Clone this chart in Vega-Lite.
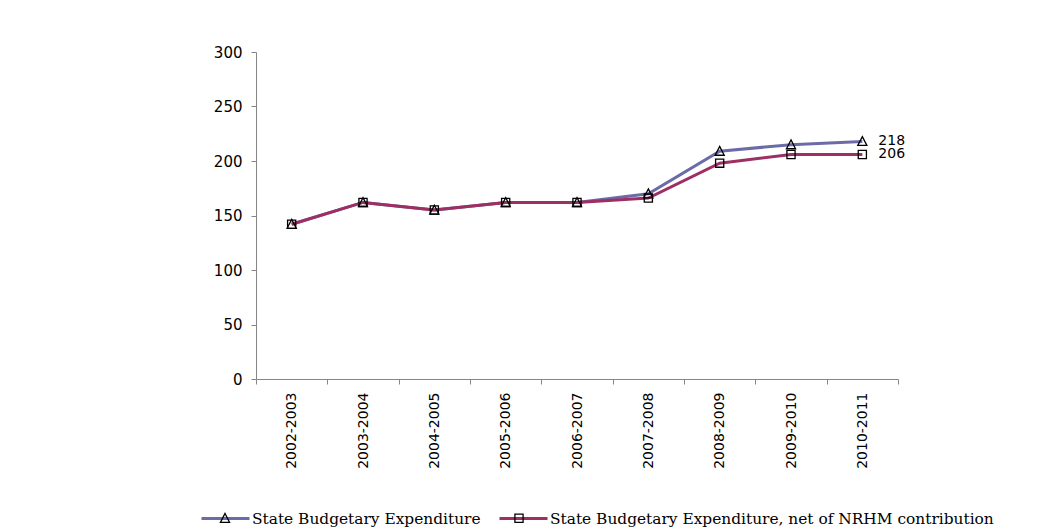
{
  "$schema": "https://vega.github.io/schema/vega-lite/v6.json",
  "width": 642,
  "height": 327,
  "autosize": "none",
  "padding": {"left": 256, "top": 52, "right": 161, "bottom": 150},
  "background": "white",
  "config": {"view": {"stroke": null}},
  "data": {
    "values": [
      {"year": "2002-2003", "series": "State Budgetary Expenditure", "value": 142},
      {"year": "2003-2004", "series": "State Budgetary Expenditure", "value": 162},
      {"year": "2004-2005", "series": "State Budgetary Expenditure", "value": 155},
      {"year": "2005-2006", "series": "State Budgetary Expenditure", "value": 162},
      {"year": "2006-2007", "series": "State Budgetary Expenditure", "value": 162},
      {"year": "2007-2008", "series": "State Budgetary Expenditure", "value": 170},
      {"year": "2008-2009", "series": "State Budgetary Expenditure", "value": 209},
      {"year": "2009-2010", "series": "State Budgetary Expenditure", "value": 215},
      {"year": "2010-2011", "series": "State Budgetary Expenditure", "value": 218},
      {"year": "2002-2003", "series": "State Budgetary Expenditure, net of NRHM contribution", "value": 142},
      {"year": "2003-2004", "series": "State Budgetary Expenditure, net of NRHM contribution", "value": 162},
      {"year": "2004-2005", "series": "State Budgetary Expenditure, net of NRHM contribution", "value": 155},
      {"year": "2005-2006", "series": "State Budgetary Expenditure, net of NRHM contribution", "value": 162},
      {"year": "2006-2007", "series": "State Budgetary Expenditure, net of NRHM contribution", "value": 162},
      {"year": "2007-2008", "series": "State Budgetary Expenditure, net of NRHM contribution", "value": 166},
      {"year": "2008-2009", "series": "State Budgetary Expenditure, net of NRHM contribution", "value": 198},
      {"year": "2009-2010", "series": "State Budgetary Expenditure, net of NRHM contribution", "value": 206},
      {"year": "2010-2011", "series": "State Budgetary Expenditure, net of NRHM contribution", "value": 206}
    ]
  },
  "encoding": {
    "x": {
      "field": "year",
      "type": "ordinal",
      "bandPosition": 0.5,
      "scale": {"type": "band", "paddingInner": 0, "paddingOuter": 0},
      "axis": {
        "title": null,
        "labelAngle": -90,
        "tickBand": "extent",
        "domainColor": "#868686",
        "tickColor": "#868686",
        "tickSize": 5,
        "labelFont": "DejaVu Sans",
        "labelFontSize": 14,
        "labelColor": "black",
        "labelPadding": 8
      }
    },
    "y": {
      "field": "value",
      "type": "quantitative",
      "scale": {"domain": [0, 300], "nice": false, "zero": true},
      "axis": {
        "title": null,
        "grid": false,
        "values": [0, 50, 100, 150, 200, 250, 300],
        "domainColor": "#868686",
        "tickColor": "#868686",
        "tickSize": 5,
        "labelFont": "DejaVu Sans",
        "labelFontSize": 15,
        "labelColor": "black",
        "labelPadding": 9
      }
    }
  },
  "layer": [
    {
      "mark": {"type": "line", "strokeWidth": 3},
      "encoding": {
        "color": {
          "field": "series",
          "type": "nominal",
          "scale": {"range": ["#6b6ba8", "#9e2f63"]},
          "legend": {
            "orient": "none",
            "legendX": -56,
            "legendY": 441,
            "direction": "horizontal",
            "title": null,
            "symbolType": "stroke",
            "symbolSize": 2304,
            "symbolStrokeWidth": 3,
            "labelFont": "DejaVu Serif",
            "labelFontSize": 15.4,
            "labelColor": "black",
            "labelLimit": 0,
            "labelOffset": 1,
            "columnPadding": 12
          }
        }
      }
    },
    {
      "mark": {"type": "point", "filled": false, "stroke": "black", "strokeWidth": 1.3, "size": 2304, "opacity": 1},
      "encoding": {
        "shape": {
          "field": "series",
          "type": "nominal",
          "scale": {
            "domain": ["State Budgetary Expenditure", "State Budgetary Expenditure, net of NRHM contribution"],
            "range": ["M0,-0.2L0.19,0.17L-0.19,0.17Z", "M-0.17,-0.17H0.17V0.17H-0.17Z"]
          },
          "legend": {
            "orient": "none",
            "legendX": -56,
            "legendY": 441,
            "direction": "horizontal",
            "title": null,
            "symbolSize": 2304,
            "symbolStrokeWidth": 1.3,
            "symbolStrokeColor": "black",
            "symbolFillColor": "transparent",
            "labelFont": "DejaVu Serif",
            "labelFontSize": 15.4,
            "labelColor": "transparent",
            "labelLimit": 0,
            "labelOffset": 2.7,
            "columnPadding": 12
          }
        }
      }
    },
    {
      "transform": [{"filter": "datum.year == '2010-2011'"}],
      "mark": {"type": "text", "align": "left", "baseline": "middle", "dx": 16, "font": "DejaVu Sans", "fontSize": 14, "color": "black"},
      "encoding": {"text": {"field": "value", "type": "quantitative"}}
    }
  ]
}
